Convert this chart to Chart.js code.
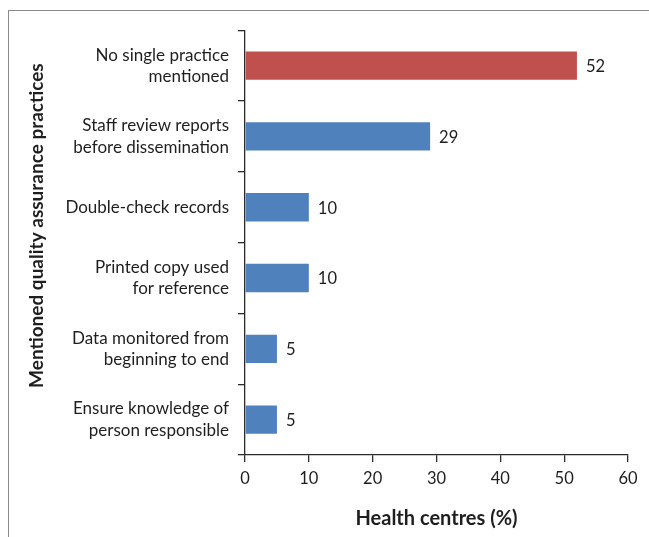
<!DOCTYPE html>
<html>
<head>
<meta charset="utf-8">
<script src="https://cdn.jsdelivr.net/npm/chart.js@4"></script>
<style>
  html, body { margin: 0; padding: 0; background: #fff; }
  #wrap { position: relative; width: 649px; height: 537px; overflow: hidden; }
  #frame { position: absolute; left: 8px; top: 10px; width: 700px; height: 600px;
           border-left: 1.5px solid #8a8a8a; border-top: 1.5px solid #8a8a8a; }
  canvas { position: absolute; left: 0; top: 0; }
</style>
</head>
<body>
<div id="wrap">
  <div id="frame"></div>
  <canvas id="c" width="649" height="537"></canvas>
</div>
<script>
const categories = [
  ["No single practice", "mentioned"],
  ["Staff review reports", "before dissemination"],
  ["Double-check records"],
  ["Printed copy used", "for reference"],
  ["Data monitored from", "beginning to end"],
  ["Ensure knowledge of", "person responsible"]
];
const values = [52, 29, 10, 10, 5, 5];
const xTicks = [0, 10, 20, 30, 40, 50, 60];
const xTitle = "Health centres (%)";
const yTitle = "Mentioned quality assurance practices";

const RED = "#C0504D";
const BLUE = "#4F81BD";
const AXIS = "#2b2b2b";
const TEXT = "#1e1e1e";
const FONT = "Lato, 'Open Sans', sans-serif";

const valueLabels = {
  id: "valueLabels",
  afterDatasetsDraw(chart) {
    const ctx = chart.ctx;
    const meta = chart.getDatasetMeta(0);
    ctx.save();
    ctx.font = "16.5px " + FONT;
    ctx.fillStyle = TEXT;
    ctx.textAlign = "left";
    ctx.textBaseline = "middle";
    meta.data.forEach((bar, i) => {
      ctx.fillText(String(values[i]), bar.x + 9, bar.y + 1);
    });
    ctx.restore();
  }
};

// Y-axis title, drawn slightly above the plot centre as in the original figure
const yAxisTitle = {
  id: "yAxisTitle",
  afterDraw(chart) {
    const ctx = chart.ctx;
    const area = chart.chartArea;
    ctx.save();
    ctx.font = "bold 19px " + FONT;
    ctx.fillStyle = TEXT;
    ctx.textAlign = "center";
    ctx.textBaseline = "middle";
    ctx.translate(37, (area.top + area.bottom) / 2 - 17);
    ctx.rotate(-Math.PI / 2);
    ctx.fillText(yTitle, 0, 0);
    ctx.restore();
  }
};

new Chart(document.getElementById("c"), {
  type: "bar",
  data: {
    labels: categories,
    datasets: [{
      data: values,
      backgroundColor: ctx => ctx.dataIndex === 0 ? RED : BLUE,
      borderWidth: 0,
      categoryPercentage: 1.0,
      barPercentage: 0.4
    }]
  },
  options: {
    indexAxis: "y",
    responsive: false,
    animation: false,
    devicePixelRatio: 1,
    layout: { padding: { left: 10, top: 26, right: 21, bottom: 6 } },
    plugins: { legend: { display: false }, tooltip: { enabled: false } },
    scales: {
      x: {
        type: "linear",
        min: 0,
        max: 60,
        afterBuildTicks: s => { s.ticks = xTicks.map(v => ({ value: v })); },
        afterFit: s => { s.height = 537 - 455 - 6; },
        grid: { display: true, drawOnChartArea: false, drawTicks: true, tickLength: 7, color: AXIS, lineWidth: 1.3 },
        border: { display: true, color: AXIS, width: 1.3 },
        ticks: { color: TEXT, font: { family: FONT, size: 16.5 }, padding: 7, maxRotation: 0 },
        title: { display: true, text: xTitle, color: TEXT, font: { family: FONT, size: 20, weight: "bold" }, padding: { top: 0, bottom: 0 } }
      },
      y: {
        type: "category",
        offset: true,
        afterFit: s => { s.width = 245 - 10; },
        grid: { display: true, offset: true, drawOnChartArea: false, drawTicks: true, tickLength: 7, color: AXIS, lineWidth: 1.3 },
        border: { display: true, color: AXIS, width: 1.3 },
        ticks: { color: TEXT, font: { family: FONT, size: 17, lineHeight: 1.25 }, padding: 9, autoSkip: false },
        title: { display: false }
      }
    }
  },
  plugins: [valueLabels, yAxisTitle]
});
</script>
</body>
</html>
